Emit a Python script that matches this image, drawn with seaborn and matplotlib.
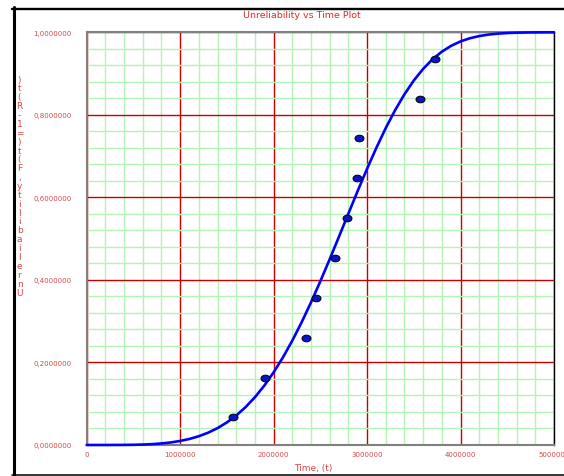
import matplotlib
matplotlib.use("Agg")
import matplotlib.pyplot as plt
from matplotlib.lines import Line2D
from matplotlib.path import Path
from matplotlib.ticker import FuncFormatter, MultipleLocator
import numpy as np
import pandas as pd
import seaborn as sns

# data (median ranks of failures)
fail_times = [1568000, 1907000, 2346000, 2452000, 2659000,
              2787000, 2888000, 2909000, 3565000, 3722000]
fail_unrel = [0.068, 0.163, 0.259, 0.356, 0.453,
              0.550, 0.646, 0.743, 0.839, 0.935]

# fitted unreliability curve, read every 100000 from 0 to 5000000
curve_times = list(range(0, 5000001, 100000))
curve_unrel = [0.0, 0.0, 0.00001, 0.0001, 0.0002, 0.0005, 0.0011, 0.0021,
               0.0038, 0.0062, 0.0098, 0.0147, 0.0213, 0.0299, 0.0409,
               0.0547, 0.0715, 0.0918, 0.1158, 0.1438, 0.1760, 0.2124,
               0.2530, 0.2975, 0.3456, 0.3968, 0.4502, 0.5053, 0.5607,
               0.6159, 0.6694, 0.7204, 0.7681, 0.8113, 0.8499, 0.8833,
               0.9114, 0.9346, 0.9531, 0.9673, 0.9779, 0.9856, 0.9909,
               0.9945, 0.9968, 0.9982, 0.9990, 0.9995, 0.9998, 0.9999, 1.0]

x_major = [0, 1000000, 2000000, 3000000, 4000000, 5000000]
y_major = [0.0, 0.2, 0.4, 0.6, 0.8, 1.0]

TITLE = "Unreliability vs Time Plot"
XLABEL = "Time, (t)"
YLABEL = "Unreliability, F(t)=1-R(t)"

RED_TXT = "#d44848"
RED_GRID = "#c80000"
GREEN_GRID = "#b6f2b6"

sns.set_style("white")
plt.rcParams["font.family"] = ["DejaVu Sans"]

W, H = 564, 477
fig = plt.figure(figsize=(W / 100, H / 100), dpi=100)
ax = fig.add_axes([86.7 / W, 1 - 446 / H, (554 - 86.7) / W, (446 - 33.3) / H])

curve_df = pd.DataFrame({"t": curve_times, "F": curve_unrel})
pts_df = pd.DataFrame({"t": fail_times, "F": fail_unrel})

sns.lineplot(data=curve_df, x="t", y="F", ax=ax, color="#0000ff",
             linewidth=1.9, zorder=4, clip_on=False)

# slightly flattened ellipse marker like the reference dots
circ = Path.unit_circle()
ell = Path(circ.vertices * np.array([1.35, 1.0]), circ.codes)
sns.scatterplot(data=pts_df, x="t", y="F", ax=ax, marker=ell, s=42,
                color="#0a14c8", edgecolor="black", linewidth=0.7, zorder=5)

ax.set_xlim(0, 5000000)
ax.set_ylim(0, 1)
ax.set_xticks(x_major)
ax.set_yticks(y_major)
ax.xaxis.set_minor_locator(MultipleLocator(200000))
ax.yaxis.set_minor_locator(MultipleLocator(0.04))
ax.xaxis.set_major_formatter(FuncFormatter(lambda v, p: f"{int(round(v))}"))
ax.yaxis.set_major_formatter(FuncFormatter(lambda v, p: f"{v:.7f}".replace(".", ",")))

ax.grid(which="minor", color=GREEN_GRID, linewidth=1.0)
ax.grid(which="major", color=RED_GRID, linewidth=1.0)
ax.set_axisbelow(True)

ax.tick_params(axis="y", which="major", length=2.5, width=1.2, color="#808080",
               pad=8.5, labelsize=5, labelcolor=RED_TXT)
ax.tick_params(axis="x", which="major", length=0, pad=4,
               labelsize=5, labelcolor=RED_TXT)
ax.tick_params(which="minor", length=0)

for side in ["left", "bottom", "top"]:
    ax.spines[side].set_color("#808080")
    ax.spines[side].set_linewidth(1.5)
ax.spines["right"].set_color("black")
ax.spines["right"].set_linewidth(1.0)

ax.set_xlabel("")
ax.set_ylabel("")

fig.text(301.5 / W, 1 - 15 / H, TITLE, color="#e02828", fontsize=6.8,
         ha="center", va="center")
fig.text(313.5 / W, 1 - 468.5 / H, XLABEL, color=RED_TXT, fontsize=6.5,
         ha="center", va="center")

# stacked, reversed axis title as in the reference
stack = YLABEL[::-1].replace(" ", "")
y0 = 80.0
dy = (293.0 - y0) / (len(stack) - 1)
for i, ch in enumerate(stack):
    fig.text(19.5 / W, 1 - (y0 + i * dy) / H, ch, color=RED_TXT,
             fontsize=6.5, ha="center", va="center")

# outer frame of the screenshot
fig.add_artist(Line2D([13.5 / W, 13.5 / W], [1 - 8 / H, 0], transform=fig.transFigure,
                      color="black", linewidth=2.2))
fig.add_artist(Line2D([12 / W, 1], [1 - 9.7 / H, 1 - 9.7 / H], transform=fig.transFigure,
                      color="black", linewidth=1.7))
fig.add_artist(Line2D([12 / W, 1], [1 - 475.6 / H, 1 - 475.6 / H], transform=fig.transFigure,
                      color="black", linewidth=1.1))

fig.savefig("out.png", dpi=100)
